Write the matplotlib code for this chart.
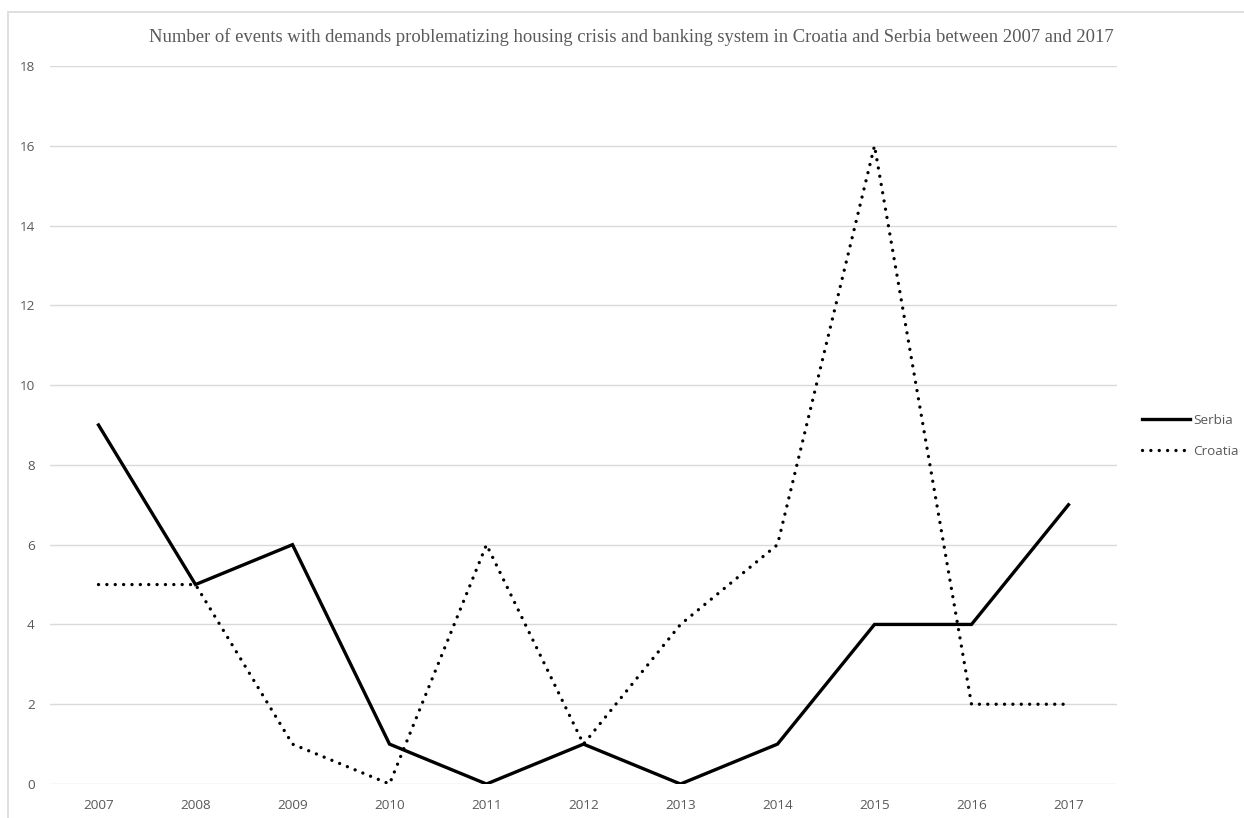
import matplotlib.pyplot as plt
from matplotlib.patches import Rectangle

years = ["2007", "2008", "2009", "2010", "2011", "2012", "2013", "2014", "2015", "2016", "2017"]
serbia = [9, 5, 6, 1, 0, 1, 0, 1, 4, 4, 7]
croatia = [5, 5, 1, 0, 6, 1, 4, 6, 16, 2, 2]
yticks = [0, 2, 4, 6, 8, 10, 12, 14, 16, 18]

title = ("Number of events with demands problematizing housing crisis and banking system "
         "in Croatia and Serbia between 2007 and 2017")

grey = "#595959"
fig = plt.figure(figsize=(12.44, 8.18), dpi=100)
fig.patches.append(Rectangle((8 / 1244, -0.1), 1.2, 1 - 12 / 818 + 0.1,
                             transform=fig.transFigure, fill=False,
                             edgecolor="#d9d9d9", lw=1.2))

ax = fig.add_axes([50 / 1244, 1 - 784 / 818, (1117 - 50) / 1244, (784 - 66) / 818])
x = list(range(len(years)))

ax.plot(x, serbia, color="black", lw=2.4, solid_joinstyle="miter", label="Serbia")
ax.plot(x, croatia, color="black", lw=2.4, linestyle=(0, (0.01, 2.5)),
        dash_capstyle="round", label="Croatia")

ax.set_xlim(-0.5, len(years) - 0.5)
ax.set_ylim(0, 18)
ax.set_yticks(yticks)
ax.set_xticks(x)
ax.set_xticklabels(years)
ax.grid(axis="y", color="#d9d9d9", lw=1)
ax.set_axisbelow(True)
for s in ax.spines.values():
    s.set_visible(False)
ax.tick_params(length=0, colors=grey, labelsize=9.7)
ax.tick_params(axis="y", pad=11)
ax.tick_params(axis="x", pad=11)
for lab in ax.get_xticklabels() + ax.get_yticklabels():
    lab.set_fontfamily("Open Sans")

fig.text(631 / 1244, 1 - 37 / 818, title, ha="center", va="center",
         fontfamily="Liberation Serif", fontsize=13.4, color=grey)

leg = ax.legend(loc="center left", bbox_to_anchor=(1.012, 0.485), frameon=False,
                handlelength=3.6, handletextpad=0.2, labelspacing=1.3,
                prop={"family": "Open Sans", "size": 9.7})
for t in leg.get_texts():
    t.set_color(grey)

fig.savefig("out.png", dpi=100)
